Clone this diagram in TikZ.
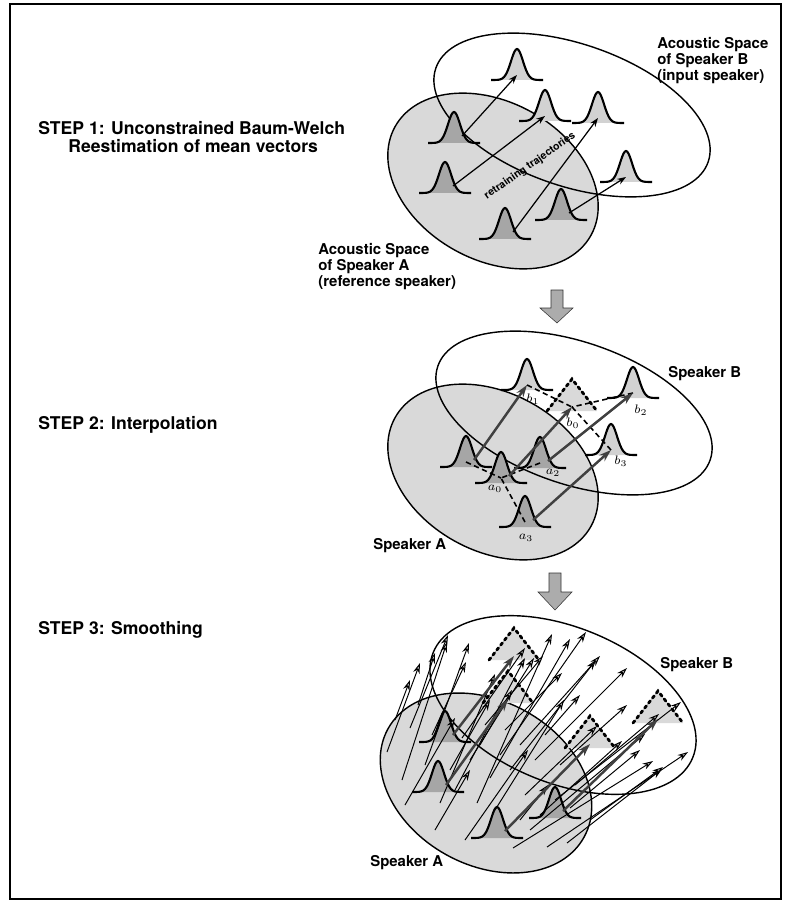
\documentclass[tikz,border=0pt]{standalone}
\usepackage{fontspec}
\setmainfont{TeX Gyre Heros}
\usetikzlibrary{arrows.meta}

\tikzset{
  lbl/.style={font=\bfseries\fontsize{8.5}{9.2}\selectfont, align=left, anchor=north west, inner sep=0pt},
  steplbl/.style={font=\bfseries\fontsize{10}{10.5}\selectfont, align=left, anchor=north west, inner sep=0pt},
  sublbl/.style={font=\fontsize{7}{7}\selectfont, inner sep=0pt},
  spaceA/.style={fill=gray!30, draw=black, line width=0.8pt},
  spaceB/.style={draw=black, line width=0.8pt},
  traj/.style={line width=0.7pt, -{Stealth[length=5pt, width=3.6pt, fill=gray!50]}},
  interp/.style={line width=1.4pt, draw=black!75, -{Stealth[length=7pt, width=4.6pt, fill=gray!50]}},
  link/.style={densely dashed, line width=0.9pt},
  field/.style={line width=0.55pt, -{Stealth[length=6pt, width=3.8pt, fill=gray!45]}},
  bigdown/.style={fill=gray!65, draw=gray!40!black, line width=0.3pt},
  pics/bell/.style={code={
    \fill[#1] plot[domain=-26:26, samples=41] (\x, {-31*exp(-(\x/8.5)^2)}) -- cycle;
    \draw[line width=1.2pt] plot[domain=-26:26, samples=41] (\x, {-31*exp(-(\x/8.5)^2)});
    \coordinate (-m) at (0,-5);
    \coordinate (-r) at (8,-7);
  }},
  pics/ghost/.style={code={
    \fill[gray!30] (-25,0) -- (0,-32) -- (25,0) -- cycle;
    \draw[line width=1.6pt, dotted, line cap=round] (-25,0) -- (0,-32) -- (25,0);
    \coordinate (-m) at (0,-4);
  }},
}

\begin{document}
\begin{tikzpicture}[x=0.02cm, y=-0.02cm]
  \useasboundingbox (0,0) rectangle (784,902);
  \draw[line width=0.8pt] (10,4) rectangle (781,899);

  % step 1
  \path[spaceA, rotate around={-29:(493,181)}] (493,181) ellipse [x radius=112, y radius=79];
  \draw[spaceB, rotate around={-19:(572,115)}] (572,115) ellipse [x radius=144, y radius=71];

  \foreach \n/\px/\py in {g1/454/143, g2/445/193, g3/505/239, g4/561/220}
    \pic (\n) at (\px,\py) {bell=gray!70};
  \foreach \n/\px/\py in {h1/517/80, h2/545/121, h3/598/123, h4/626/182}
    \pic (\n) at (\px,\py) {bell=gray!35};

  \draw[traj] (g1-r) -- (h1-m);
  \draw[traj] (g2-r) -- (h2-m);
  \draw[traj] (g3-r) -- (h3-m);
  \draw[traj] (g4-r) -- (h4-m);

  \node[font=\bfseries\fontsize{6}{6}\selectfont, rotate=35, inner sep=0pt] (retrain) at (530,166) {retraining trajectories};

  \node[steplbl] (step1) at (38,121) {STEP 1: Unconstrained Baum-Welch\\\hspace*{0.6cm}Reestimation of mean vectors};
  \node[lbl] (spcB1) at (657,37) {Acoustic Space\\of Speaker B\\(input speaker)};
  \node[lbl] (spcA1) at (318,243) {Acoustic Space\\of Speaker A\\(reference speaker)};

  \path[bigdown] (551,290) -- (563,290) -- (563,308) -- (573,308) -- (557,323) -- (540,308) -- (551,308) -- cycle;

  % step 2
  \path[spaceA, rotate around={-29:(493,472)}] (493,472) ellipse [x radius=112, y radius=79];
  \draw[spaceB, rotate around={-19:(574,413)}] (574,413) ellipse [x radius=144, y radius=71];

  \foreach \n/\px/\py in {b1/527/390, b2/633/398, b3/611/455}
    \pic (\n) at (\px,\py) {bell=gray!35};
  \pic (b0) at (572,411) {ghost};
  \foreach \n/\px/\py in {a1/466/467, a2/540/468, a0/501/483, a3/525/527}
    \pic (\n) at (\px,\py) {bell=gray!70};

  \draw[link] (b1-m) -- (b0-m);
  \draw[link] (b2-m) -- (b0-m);
  \draw[link] (b3-m) -- (b0-m);
  \draw[link] (a1-m) -- (a0-m);
  \draw[link] (a2-m) -- (a0-m);
  \draw[link] (a3-m) -- (a0-m);

  \draw[interp] (a1-r) -- (b1-m);
  \draw[interp] (a0-r) -- (b0-m);
  \draw[interp] (a2-r) -- (b2-m);
  \draw[interp] (a3-r) -- (b3-m);

  \node[sublbl] (lb1) at (533,399) {$b_1$};
  \node[sublbl] (lb2) at (641,410) {$b_2$};
  \node[sublbl] (lb0) at (573,423) {$b_0$};
  \node[sublbl] (lb3) at (621,461) {$b_3$};
  \node[sublbl] (la0) at (495,489) {$a_0$};
  \node[sublbl] (la2) at (553,473) {$a_2$};
  \node[sublbl] (la3) at (526,538) {$a_3$};

  \node[steplbl] (step2) at (38,416) {STEP 2: Interpolation};
  \node[lbl] (spkB2) at (668,366) {Speaker B};
  \node[lbl] (spkA2) at (373,538) {Speaker A};

  \path[bigdown] (549,573) -- (561,573) -- (561,592) -- (572,592) -- (555,610) -- (538,592) -- (549,592) -- cycle;

  % step 3
  \path[spaceA, rotate around={-29:(486,783)}] (486,783) ellipse [x radius=112, y radius=82];
  \draw[spaceB, rotate around={-22:(563,705)}] (563,705) ellipse [x radius=140, y radius=78];

  \foreach \n/\px/\py in {t1/514/660, t2/508/703, t3/590/748, t4/658/723}
    \pic (\n) at (\px,\py) {ghost};
  \foreach \n/\px/\py in {d1/445/742, d2/438/792, d3/497/838, d4/555/818}
    \pic (\n) at (\px,\py) {bell=gray!70};

  \foreach \i/\xa/\ya/\xb/\yb in {
      1/387/752/420/663, 2/402/780/447/642, 3/410/728/448/635, 4/425/765/469/643,
      5/440/803/495/674, 6/432/735/466/662, 7/418/705/435/653, 8/455/790/525/658,
      9/477/803/552/634, 10/470/760/534/658, 11/490/778/570/639, 12/462/738/525/648,
      13/500/755/586/632, 14/485/725/543/656, 15/510/770/596/660, 16/520/745/600/656,
      17/495/810/564/700, 18/505/730/562/673, 19/535/760/627/668, 20/513/848/653/761,
      21/547/847/688/752, 22/567/843/662/769, 23/530/830/645/734, 24/555/800/681/702,
      25/540/815/622/741, 26/575/785/659/714, 27/525/795/597/726, 28/560/765/627/705,
      29/590/820/663/767, 30/465/840/528/750, 31/405/805/455/718, 32/395/720/410/680,
      33/450/770/490/700, 34/480/745/512/690, 35/545/735/580/695, 36/570/808/640/750,
      37/520/820/548/785, 38/435/830/470/770}
  {
    \coordinate (tail\i) at (\xa,\ya);
    \coordinate (tip\i) at (\xb,\yb);
    \draw[field] (tail\i) -- (tip\i);
  }

  \draw[interp] (d1-r) -- (t1-m);
  \draw[interp] (d2-r) -- (t2-m);
  \draw[interp] (d3-r) -- (t3-m);
  \draw[interp] (d4-r) -- (t4-m);

  \node[steplbl] (step3) at (38,621) {STEP 3: Smoothing};
  \node[lbl] (spkB3) at (660,657) {Speaker B};
  \node[lbl] (spkA3) at (370,855) {Speaker A};
\end{tikzpicture}
\end{document}
